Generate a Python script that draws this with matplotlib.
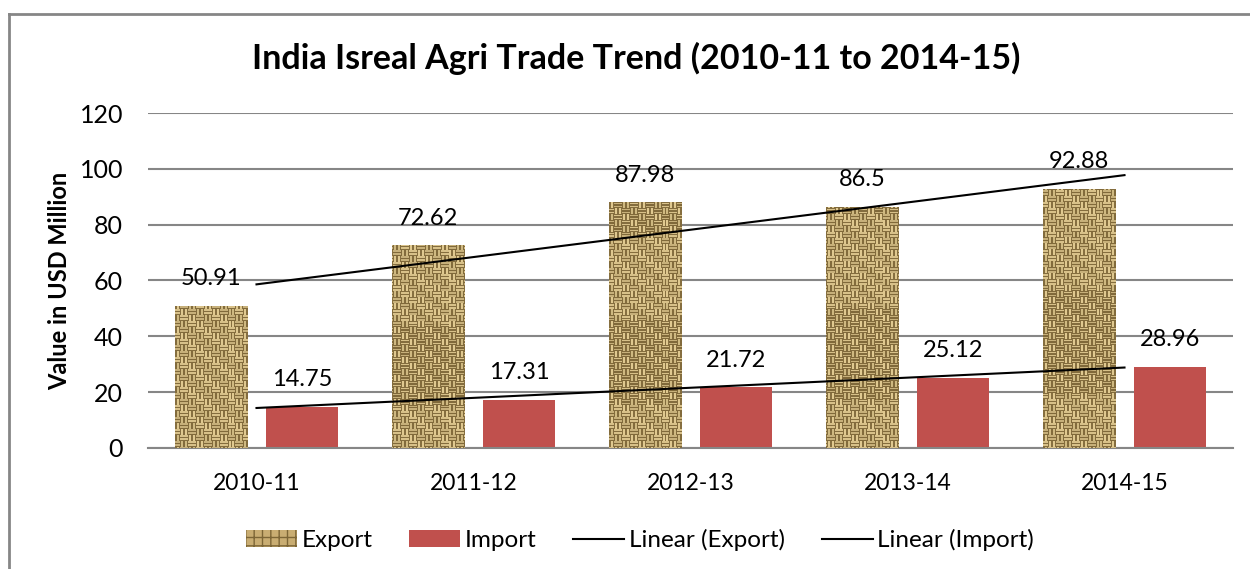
import numpy as np
import matplotlib.pyplot as plt
from matplotlib.lines import Line2D
from matplotlib.patches import Patch

plt.rcParams['font.family'] = ['Lato', 'DejaVu Sans']

# data
years = ['2010-11', '2011-12', '2012-13', '2013-14', '2014-15']
export_vals = [50.91, 72.62, 87.98, 86.5, 92.88]
import_vals = [14.75, 17.31, 21.72, 25.12, 28.96]

fig = plt.figure(figsize=(12.5, 5.69), dpi=100)
ax = fig.add_axes([0.1184, 0.2127, 0.868, 0.5887])

x = np.arange(len(years))
w = 0.335
off = 0.21

exp_bars = ax.bar(x - off, export_vals, w, color='#c9ad72', edgecolor='#7d6636',
                  hatch='++', linewidth=0, zorder=2)
imp_bars = ax.bar(x + off, import_vals, w, color='#c0504d', linewidth=0, zorder=2)

# burlap-like weave texture for the export bars (basket weave, 8px blocks)
ii, jj = np.indices((450, 1100))
block = ((ii // 8) + (jj // 8)) % 2
pos = np.where(block == 0, ii % 4, jj % 4)
shade = np.sin(np.pi * (pos + 0.5) / 4.0) ** 1.5
shade = shade * (0.8 + 0.2 * (((ii // 8) * 3 + (jj // 8) * 5) % 4) / 3.0)
dark = np.array([0.40, 0.31, 0.14])
light = np.array([0.94, 0.85, 0.62])
tex = dark + (light - dark) * shade[..., None]
for b in exp_bars:
    im = ax.imshow(tex, extent=(-0.5, 4.5, 0, 120), aspect='auto',
                   interpolation='nearest', zorder=3)
    im.set_clip_path(b)

# linear trendlines
for vals in (export_vals, import_vals):
    k, c = np.polyfit(x + 1, vals, 1)
    ax.plot(x, k * (x + 1) + c, color='black', lw=1.5, zorder=4)

for bars, vals in ((exp_bars, export_vals), (imp_bars, import_vals)):
    for b, v in zip(bars, vals):
        ax.annotate(f'{v:g}', (b.get_x() + b.get_width() / 2, v), xytext=(0, 12),
                    textcoords='offset points', ha='center', va='bottom',
                    fontsize=17, zorder=5)

ax.set_xlim(-0.5, 4.5)
ax.set_ylim(0, 120)
ax.set_yticks(range(0, 121, 20))
ax.set_xticks(x)
ax.set_xticklabels(years)
ax.tick_params(axis='x', length=0, labelsize=16.5, pad=18)
ax.tick_params(axis='y', length=0, labelsize=18, pad=18)
ax.grid(axis='y', color='#868686', lw=1.5, zorder=0)
for s in ['top', 'right', 'left']:
    ax.spines[s].set_visible(False)
ax.spines['bottom'].set_color('#868686')
ax.spines['bottom'].set_linewidth(1.5)

fig.text(0.509, 0.898, 'India Isreal Agri Trade Trend (2010-11 to 2014-15)',
         ha='center', va='center', fontsize=24.5, fontweight='bold')
fig.text(0.048, 0.507, 'Value in USD Million', rotation=90, ha='center', va='center',
         fontsize=17, fontweight='bold')

handles = [Patch(facecolor='#c9ad72', edgecolor='#7d6636', hatch='++', linewidth=0),
           Patch(facecolor='#c0504d'),
           Line2D([], [], color='black', lw=1.5),
           Line2D([], [], color='black', lw=1.5)]
fig.legend(handles, ['Export', 'Import', 'Linear (Export)', 'Linear (Import)'],
           loc='center', bbox_to_anchor=(0.512, 0.051), ncol=4, frameon=False,
           fontsize=17.5, handlelength=2.1, handleheight=0.7, columnspacing=1.5,
           handletextpad=0.2)

# outer chart frame (clipped by the image edge on right and bottom)
fig.add_artist(Line2D([9 / 1250, 9 / 1250], [0, 1 - 14 / 569], color='#868686', lw=2))
fig.add_artist(Line2D([9 / 1250, 1], [1 - 14 / 569, 1 - 14 / 569], color='#868686', lw=2))

fig.savefig('out.png', dpi=100)
